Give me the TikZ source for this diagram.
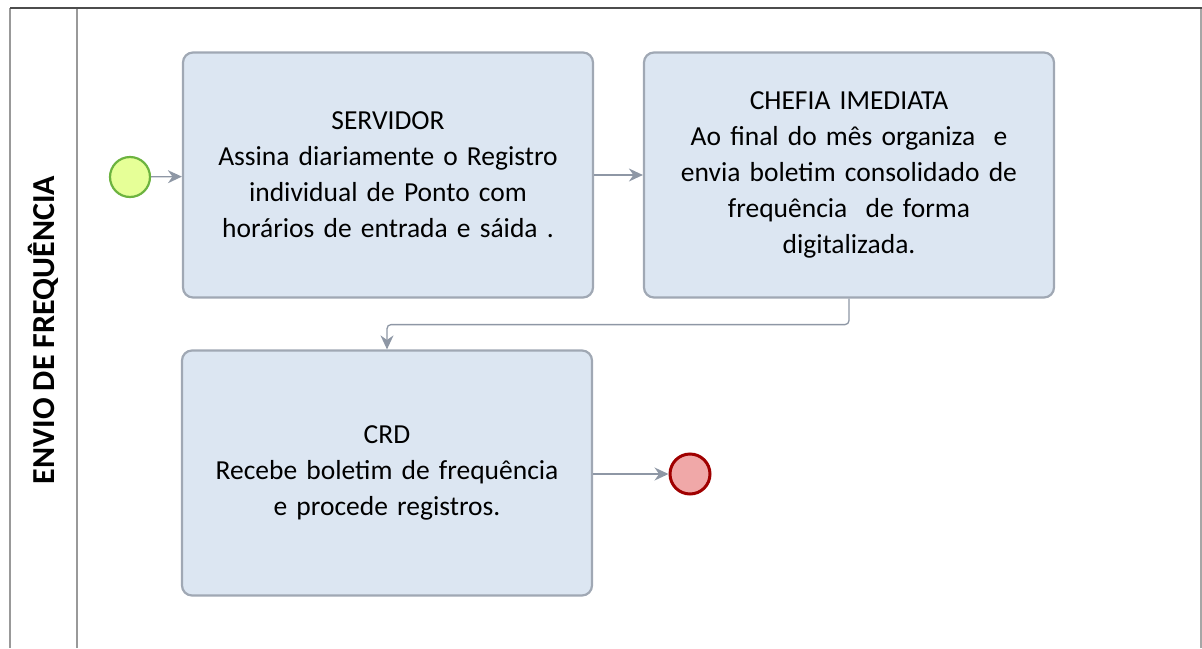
\documentclass[tikz,border=0pt]{standalone}
\usepackage{fontspec}
\setmainfont{Carlito}
\definecolor{taskfill}{RGB}{220, 230, 242}
\definecolor{taskline}{RGB}{160, 168, 180}
\definecolor{flowgray}{RGB}{142, 151, 165}
\definecolor{startfill}{RGB}{230, 255, 151}
\definecolor{startline}{RGB}{108, 179, 63}
\definecolor{endfill}{RGB}{240, 168, 168}
\definecolor{endline}{RGB}{160, 0, 0}
\usetikzlibrary{arrows.meta, positioning}

\begin{document}
\begin{tikzpicture}[x=1pt, y=-1pt,
    task/.style={draw=taskline, line width=2.2pt, fill=taskfill, rounded corners=10pt,
      minimum width=410pt, minimum height=245pt, text width=400pt, align=center,
      font=\fontsize{27.5}{36}\selectfont},
    startev/.style={circle, draw=startline, line width=2.2pt, fill=startfill, minimum size=40pt, inner sep=0pt},
    endev/.style={circle, draw=endline, line width=3pt, fill=endfill, minimum size=40pt, inner sep=0pt},
    flow/.style={draw=flowgray, line width=1.3pt, -{Stealth[length=14pt, width=13pt]}}]
  \useasboundingbox (0,0) rectangle (1202,648);

  % pool and lane
  \draw[gray!80, line width=1.2pt] (10,8) -- (10,648);
  \draw[gray!80, line width=1.2pt] (77,8) -- (77,648);
  \draw[gray!70, line width=1.2pt] (1201,8) -- (1201,648);
  \draw[black!70, line width=2pt] (10,8) -- (1202,8);
  \node[rotate=90, font=\fontsize{32}{36}\selectfont\bfseries] (lane) at (43,330) {ENVIO DE FREQUÊNCIA};

  % events and tasks
  \node[startev] (start) at (130,177) {};
  \node[task] (servidor) at (388,175) {SERVIDOR\\
    Assina diariamente o Registro\\
    individual de Ponto com\\
    horários de entrada e sáida .};
  \node[task] (chefia) at (849,175) {CHEFIA IMEDIATA\\
    Ao final do mês organiza\ \ e\\
    envia boletim consolidado de\\
    frequência\ \ de forma\\
    digitalizada.};
  \node[task] (crd) at (387,473) {CRD\\
    Recebe boletim de frequência\\
    e procede registros.};
  \node[endev] (fim) at (690,474) {};

  % flows
  \draw[flow] (start) -- (servidor);
  \draw[flow] (servidor) -- (chefia);
  \draw[flow, rounded corners=4pt] (chefia.south) -- ++(0,26) -| (crd.north);
  \draw[flow] (crd.east |- fim) -- (fim);
\end{tikzpicture}
\end{document}
